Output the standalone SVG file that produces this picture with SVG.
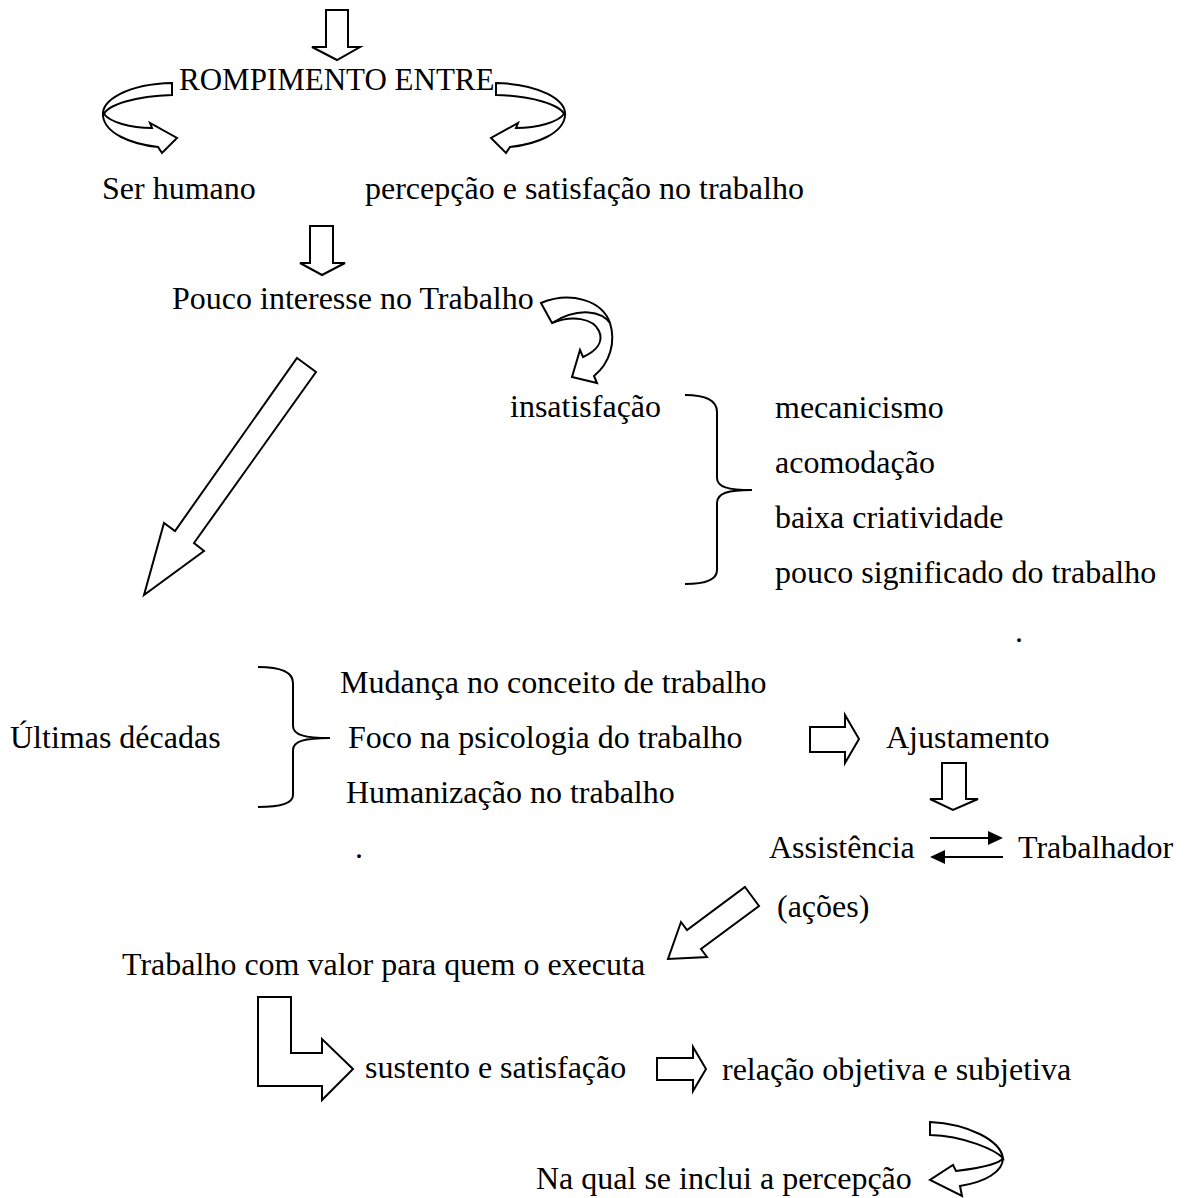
<svg xmlns="http://www.w3.org/2000/svg" xmlns:xlink="http://www.w3.org/1999/xlink" width="1185" height="1198" viewBox="0 0 1185 1198">
<style>
.t{font-family:"Liberation Serif","Times New Roman",serif;font-size:32px;fill:#000}
.s{fill:#fff;stroke:#000;stroke-width:2;stroke-linejoin:miter}
.b{fill:none;stroke:#000;stroke-width:2}
.l{fill:none;stroke:#000;stroke-width:2}
.h{fill:#000;stroke:none}
</style>
<defs>
<path id="curl" d="M172,83 L172,95 C135,96 108,105 104,114 C110,122 130,128 152,128 L150,123 L177,138 L162,153 L158,147 C130,144 105,133 103,116 C101,100 128,84 172,83 Z"/>
</defs>
<rect width="1185" height="1198" fill="#fff"/>
<g id="connectors">
<polygon class="s" points="326,10 348,10 348,47 360,47 337,60 312,47 326,47"/>
<use xlink:href="#curl" class="s"/>
<use xlink:href="#curl" class="s" transform="matrix(-1,0,0,1,668,0)"/>
<polygon class="s" points="310,226 333,226 333,263 345,263 322,275 300,263 310,263"/>
<path class="s" d="M541,303 L552,323 C572,315 593,318 599,331 C604,342 596,351 583,357 L580,350 L572,377 L597,383 L594,376 C610,363 616,342 610,323 C602,300 570,291 541,303 Z"/>
<path class="l" d="M552,323 C580,306 602,312 610,323"/>
<polygon class="s" points="297,358 316,372 194,543 204,551 144,595 164,523 175,531"/>
<polygon class="s" points="810,727 845,727 845,715 859,739 845,763 845,752 810,752"/>
<polygon class="s" points="942,763 966,763 966,799 978,799 953,810 930,799 942,799"/>
<line class="l" x1="930" y1="838" x2="990" y2="838"/>
<polygon class="h" points="988,831 1003,838 988,845"/>
<line class="l" x1="1003" y1="857" x2="943" y2="857"/>
<polygon class="h" points="945,850 930,857 945,864"/>
<polygon class="s" points="745,887 759,906 701,949 707,957 668,959 681,922 687,930"/>
<polygon class="s" points="258,997 291,997 291,1053 322,1053 322,1039 353,1069 322,1100 322,1086 258,1086"/>
<polygon class="s" points="657,1058 693,1058 693,1047 706,1069 693,1091 693,1080 657,1080"/>
<path class="s" d="M930,1122 C968,1124 1000,1140 1003,1158 C995,1150 965,1136 930,1135 Z"/>
<path class="s" d="M1003,1158 C1003,1172 985,1182 960,1186 L962,1196 L930,1180 L953,1165 L956,1171 C980,1168 1000,1164 1003,1158 Z"/>
</g>
<g id="brace1"><path class="b" d="M685,395 C705,395 717,400 717,412 L717,478 C717,487 728,490 752,490 C728,490 717,493 717,503 L717,570 C717,580 705,584 685,584"/></g>
<g id="brace2"><path class="b" d="M258,667 C280,667 293,672 293,683 L293,726 C293,735 305,738 330,738 C305,738 293,741 293,750 L293,795 C293,803 280,807 258,807"/></g>
<g id="n-rompimento"><text class="t" x="179" y="90" style="font-size:31px">ROMPIMENTO ENTRE</text></g>
<g id="n-ser"><text class="t" x="102" y="199">Ser humano</text></g>
<g id="n-percepcao"><text class="t" x="365" y="199">percepção e satisfação no trabalho</text></g>
<g id="n-pouco"><text class="t" x="172" y="309">Pouco interesse no Trabalho</text></g>
<g id="n-insat"><text class="t" x="510" y="417">insatisfação</text></g>
<g id="n-list">
<text class="t" x="775" y="418">mecanicismo</text>
<text class="t" x="775" y="473">acomodação</text>
<text class="t" x="775" y="528">baixa criatividade</text>
<text class="t" x="775" y="583">pouco significado do trabalho</text>
<text class="t" x="1015" y="642">.</text>
</g>
<g id="n-ultimas"><text class="t" x="10" y="748">Últimas décadas</text></g>
<g id="n-list2">
<text class="t" x="340" y="693">Mudança no conceito de trabalho</text>
<text class="t" x="348" y="748">Foco na psicologia do trabalho</text>
<text class="t" x="346" y="803">Humanização no trabalho</text>
<text class="t" x="355" y="858">.</text>
</g>
<g id="n-ajust"><text class="t" x="886" y="748">Ajustamento</text></g>
<g id="n-assist"><text class="t" x="769" y="858">Assistência</text></g>
<g id="n-trab"><text class="t" x="1018" y="858">Trabalhador</text></g>
<g id="n-acoes"><text class="t" x="777" y="917">(ações)</text></g>
<g id="n-valor"><text class="t" x="122" y="975">Trabalho com valor para quem o executa</text></g>
<g id="n-sustento"><text class="t" x="365" y="1078">sustento e satisfação</text></g>
<g id="n-relacao"><text class="t" x="722" y="1080">relação objetiva e subjetiva</text></g>
<g id="n-naqual"><text class="t" x="536" y="1189">Na qual se inclui a percepção</text></g>
</svg>
